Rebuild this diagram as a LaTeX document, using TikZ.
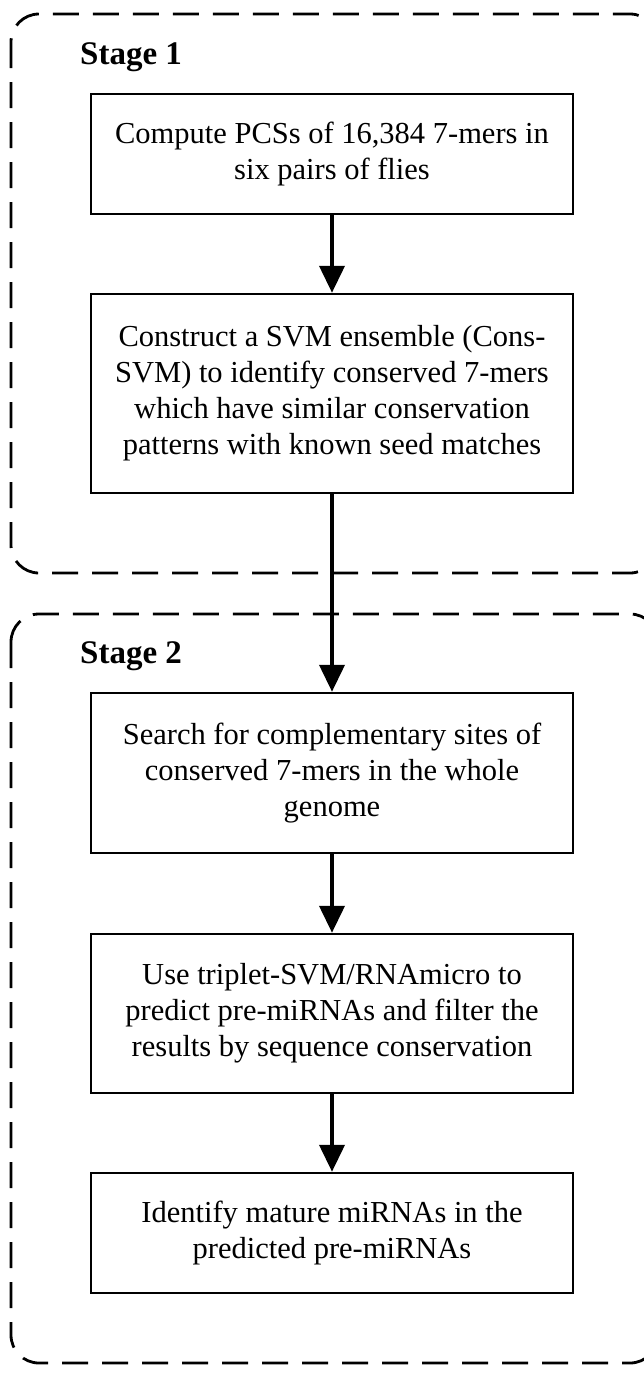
\documentclass[tikz,border=0pt]{standalone}
\usepackage{fontspec}
\setmainfont{Liberation Serif}
\usetikzlibrary{arrows.meta}
\tikzset{
  stepbox/.style={draw, line width=2.5pt, minimum width=482pt, inner sep=0pt, align=center,
    font=\fontsize{30.5}{36}\selectfont},
  stagebox/.style={draw, dashed, line width=2.8pt, dash pattern=on 26pt off 14pt, rounded corners=28pt},
  stagelabel/.style={anchor=base west, inner sep=0pt, font=\fontsize{33}{36}\selectfont\bfseries},
  flow/.style={line width=4pt, -{Triangle[length=27pt,width=25pt]}}
}
\begin{document}
\begin{tikzpicture}[x=1pt,y=-1pt]
\useasboundingbox (0,0) rectangle (644,1374);
\draw[stagebox] (11,14) rectangle (658,573);
\draw[stagebox] (11,614) rectangle (658,1363);
\node[stagelabel] (s1) at (80,64) {Stage 1};
\node[stagelabel] (s2) at (80,663) {Stage 2};
\node[stepbox, minimum height=120pt] (b1) at (332,154) {Compute PCSs of 16,384 7-mers in\\six pairs of flies};
\node[stepbox, minimum height=199pt] (b2) at (332,393.5) {Construct a SVM ensemble (Cons-\\SVM) to identify conserved 7-mers\\which have similar conservation\\patterns with known seed matches};
\node[stepbox, minimum height=160pt] (b3) at (332,773) {Search for complementary sites of\\conserved 7-mers in the whole\\genome};
\node[stepbox, minimum height=159pt] (b4) at (332,1013.5) {Use triplet-SVM/RNAmicro to\\predict pre-miRNAs and filter the\\results by sequence conservation};
\node[stepbox, minimum height=120pt] (b5) at (332,1233) {Identify mature miRNAs in the\\predicted pre-miRNAs};
\draw[flow] (b1) -- (b2);
\draw[flow] (b2) -- (b3);
\draw[flow] (b3) -- (b4);
\draw[flow] (b4) -- (b5);
\end{tikzpicture}
\end{document}
